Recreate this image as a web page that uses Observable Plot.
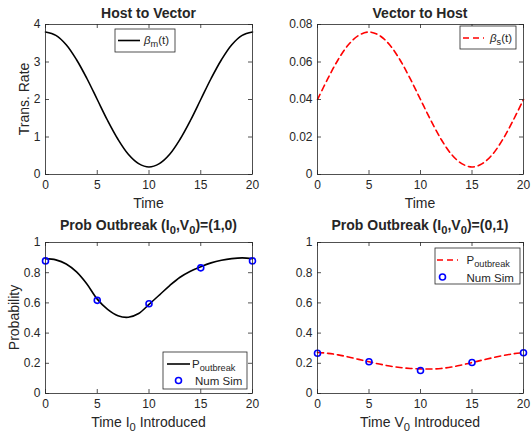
<!DOCTYPE html>
<html><head><meta charset="utf-8">
<script src="https://cdn.jsdelivr.net/npm/d3@7"></script>
<script src="https://cdn.jsdelivr.net/npm/@observablehq/plot@0.6"></script>
<style>
body{margin:0;background:#fff;}
#chart{position:relative;width:531px;height:434px;background:#fff;}
</style></head><body><div id="chart"></div>
<script>
// ---- data ----
const timeGrid = [0,1,2,3,4,5,6,7,8,9,10,11,12,13,14,15,16,17,18,19,20];
const betaM = [3.80,3.71,3.46,3.06,2.56,2.00,1.44,0.94,0.54,0.29,0.20,0.29,0.54,0.94,1.44,2.00,2.56,3.06,3.46,3.71,3.80];
const betaS = [0.0400,0.0511,0.0612,0.0692,0.0742,0.0760,0.0742,0.0692,0.0612,0.0511,0.0400,0.0289,0.0188,0.0108,0.0058,0.0040,0.0058,0.0108,0.0188,0.0289,0.0400];
const pOutI = [0.893,0.885,0.858,0.805,0.725,0.625,0.557,0.515,0.505,0.530,0.590,0.652,0.715,0.770,0.810,0.840,0.865,0.882,0.893,0.898,0.893];
const pOutV = [0.272,0.266,0.256,0.242,0.226,0.210,0.195,0.182,0.172,0.166,0.163,0.162,0.166,0.175,0.189,0.205,0.221,0.237,0.251,0.263,0.270];
const simTimes = [0,5,10,15,20];
const simI = [0.878,0.617,0.594,0.832,0.878];
const simV = [0.267,0.210,0.152,0.205,0.270];
const xTicks = [0,5,10,15,20];
const yTicksBetaM = [0,1,2,3,4];
const yTicksBetaS = [0,0.02,0.04,0.06,0.08];
const yTicksProb = [0,0.2,0.4,0.6,0.8,1];
const titles = ["Host to Vector","Vector to Host"];

const ink = "#262626";
const FONT = "'Liberation Sans', Arial, Helvetica, sans-serif";
const NS = "http://www.w3.org/2000/svg";
const TICK_FS = 12, LABEL_FS = 14, TITLE_FS = 14, LEG_FS = 11.5;

const root = d3.select("#chart").append("svg")
  .attr("xmlns", NS).attr("width", 531).attr("height", 434)
  .attr("viewBox", "0 0 531 434")
  .style("font-family", FONT).style("background", "#fff").style("display", "block");

function panel({x0, y0, w, h, m, yDomain, yTicks, marks}) {
  const fw = w - m.l - m.r, fh = h - m.t - m.b;
  const svg = Plot.plot({
    width: w, height: h,
    marginLeft: m.l, marginRight: m.r, marginTop: m.t, marginBottom: m.b,
    style: {fontFamily: FONT, fontSize: TICK_FS + "px", color: ink, background: "transparent", overflow: "visible",
            width: w + "px", height: h + "px", maxWidth: "none"},
    x: {domain: [0, 20]},
    y: {domain: yDomain},
    marks: [
      ...marks,
      Plot.frame({stroke: ink, strokeWidth: 0.8}),
      Plot.tickX(xTicks, {x: d => d, insetTop: fh - 4, stroke: ink, strokeWidth: 0.8}),
      Plot.tickX(xTicks, {x: d => d, insetBottom: fh - 4, stroke: ink, strokeWidth: 0.8}),
      Plot.tickY(yTicks, {y: d => d, insetRight: fw - 4, stroke: ink, strokeWidth: 0.8}),
      Plot.tickY(yTicks, {y: d => d, insetLeft: fw - 4, stroke: ink, strokeWidth: 0.8}),
      Plot.axisX(xTicks, {tickSize: 0, tickPadding: 6, label: null, fill: ink, fontSize: TICK_FS}),
      Plot.axisY(yTicks, {tickSize: 0, tickPadding: 5, label: null, fill: ink, fontSize: TICK_FS, tickFormat: d => String(d)})
    ]
  });
  svg.setAttribute("x", x0);
  svg.setAttribute("y", y0);
  svg.setAttribute("width", w);
  svg.setAttribute("height", h);
  root.node().appendChild(svg);
}

const rows = (xs, ys) => xs.map((t, i) => ({t, v: ys[i]}));

panel({x0: 0, y0: 0, w: 265, h: 217, m: {l: 45, r: 13, t: 24, b: 43}, yDomain: [0, 4], yTicks: yTicksBetaM,
  marks: [Plot.line(rows(timeGrid, betaM), {x: "t", y: "v", stroke: "#000", strokeWidth: 1.6, curve: "catmull-rom"})]});
panel({x0: 265, y0: 0, w: 266, h: 217, m: {l: 52, r: 8, t: 24, b: 43}, yDomain: [0, 0.08], yTicks: yTicksBetaS,
  marks: [Plot.line(rows(timeGrid, betaS), {x: "t", y: "v", stroke: "#ff0000", strokeWidth: 1.6, strokeDasharray: "6,4", curve: "catmull-rom"})]});
panel({x0: 0, y0: 217, w: 265, h: 217, m: {l: 45, r: 13, t: 25, b: 41}, yDomain: [0, 1], yTicks: yTicksProb,
  marks: [Plot.line(rows(timeGrid, pOutI), {x: "t", y: "v", stroke: "#000", strokeWidth: 1.6, curve: "catmull-rom"}),
          Plot.dot(rows(simTimes, simI), {x: "t", y: "v", r: 3, stroke: "#0000ff", strokeWidth: 1.6, fill: "none"})]});
panel({x0: 265, y0: 217, w: 266, h: 217, m: {l: 52, r: 8, t: 25, b: 41}, yDomain: [0, 1], yTicks: yTicksProb,
  marks: [Plot.line(rows(timeGrid, pOutV), {x: "t", y: "v", stroke: "#ff0000", strokeWidth: 1.6, strokeDasharray: "6,4", curve: "catmull-rom"}),
          Plot.dot(rows(simTimes, simV), {x: "t", y: "v", r: 3, stroke: "#0000ff", strokeWidth: 1.6, fill: "none"})]});

// rich text with subscripts: parts = [[text, kind]] kind: null | "sub" | "it"
function rich(x, y, parts, {size = 11, weight = "normal", anchor = "start", rotate = 0, subRatio = 0.72} = {}) {
  const t = root.append("text")
    .attr("x", x).attr("y", y)
    .attr("fill", ink).attr("font-size", size).attr("font-weight", weight)
    .attr("text-anchor", anchor);
  if (rotate) t.attr("transform", `rotate(${rotate},${x},${y})`);
  let shifted = 0;
  for (const [s, kind] of parts) {
    const sp = t.append("tspan").text(s);
    if (kind === "sub") {
      sp.attr("font-size", size * subRatio).attr("dy", size * 0.32 - shifted);
      shifted = size * 0.32;
    } else {
      if (shifted) { sp.attr("dy", -shifted); shifted = 0; }
      if (kind === "it") sp.attr("font-style", "italic");
    }
  }
  return t;
}

// titles
rich(148.5, 18, [[titles[0]]], {size: TITLE_FS, weight: "bold", anchor: "middle"});
rich(420, 18, [[titles[1]]], {size: TITLE_FS, weight: "bold", anchor: "middle"});
rich(148.5, 230, [["Prob Outbreak (I"], ["0", "sub"], [",V"], ["0", "sub"], [")=(1,0)"]], {size: TITLE_FS, weight: "bold", anchor: "middle", subRatio: 0.8});
rich(420, 230, [["Prob Outbreak (I"], ["0", "sub"], [",V"], ["0", "sub"], [")=(0,1)"]], {size: TITLE_FS, weight: "bold", anchor: "middle", subRatio: 0.8});

// axis labels
rich(148.5, 207.5, [["Time"]], {size: LABEL_FS, anchor: "middle"});
rich(420, 207.5, [["Time"]], {size: LABEL_FS, anchor: "middle"});
rich(148.5, 427, [["Time I"], ["0", "sub"], [" Introduced"]], {size: LABEL_FS, anchor: "middle", subRatio: 0.8});
rich(420, 427, [["Time V"], ["0", "sub"], [" Introduced"]], {size: LABEL_FS, anchor: "middle", subRatio: 0.8});
rich(28.5, 99, [["Trans. Rate"]], {size: LABEL_FS, anchor: "middle", rotate: -90});
rich(18.5, 317.5, [["Probability"]], {size: LABEL_FS, anchor: "middle", rotate: -90});

// legends
function legendBox(x, y, w, h) {
  root.append("rect").attr("x", x).attr("y", y).attr("width", w).attr("height", h)
    .attr("fill", "#fff").attr("stroke", ink).attr("stroke-width", 0.8);
}
function legendLine(x1, x2, y, color, dash) {
  const l = root.append("line").attr("x1", x1).attr("x2", x2).attr("y1", y).attr("y2", y)
    .attr("stroke", color).attr("stroke-width", 1.6);
  if (dash) l.attr("stroke-dasharray", dash);
}
function legendDot(cx, cy) {
  root.append("circle").attr("cx", cx).attr("cy", cy).attr("r", 3)
    .attr("fill", "none").attr("stroke", "#0000ff").attr("stroke-width", 1.6);
}

legendBox(115, 29, 60, 23);
legendLine(118, 140, 40.5, "#000");
rich(144, 43.5, [["\u03B2", "it"], ["m", "sub"], ["(t)"]], {size: LEG_FS, subRatio: 0.8});

legendBox(460, 26, 56, 23);
legendLine(463, 484, 38, "#ff0000", "6,4");
rich(490, 41.5, [["\u03B2", "it"], ["s", "sub"], ["(t)"]], {size: LEG_FS, subRatio: 0.8});

legendBox(163, 352, 84, 37);
legendLine(167, 190, 364, "#000");
rich(192, 367.5, [["P"], ["outbreak", "sub"]], {size: LEG_FS, subRatio: 0.8});
legendDot(178.5, 380.5);
rich(195, 384.5, [["Num Sim"]], {size: LEG_FS});

legendBox(435, 248, 85, 36);
legendLine(437, 458, 260, "#ff0000", "6,4");
rich(466.5, 263.5, [["P"], ["outbreak", "sub"]], {size: LEG_FS, subRatio: 0.8});
legendDot(442.5, 277);
rich(466.5, 281.5, [["Num Sim"]], {size: LEG_FS});
</script></body></html>
